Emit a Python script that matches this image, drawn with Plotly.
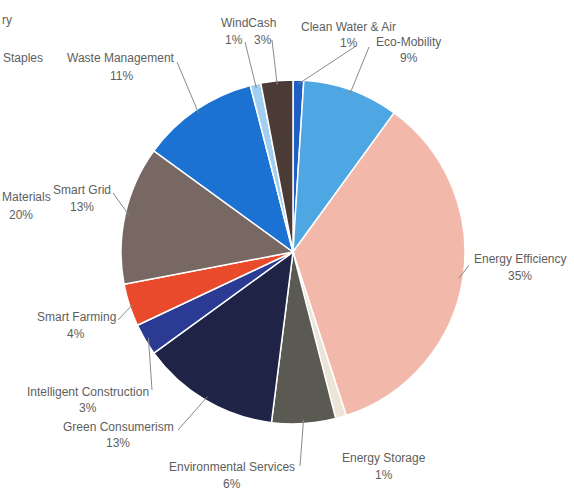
import math
import plotly.graph_objects as go

# Sector shares (%), listed clockwise from 12 o'clock
sectors = [
    "Clean Water & Air", "Eco-Mobility", "Energy Efficiency", "Energy Storage",
    "Environmental Services", "Green Consumerism", "Intelligent Construction",
    "Smart Farming", "Smart Grid", "Waste Management", "WindCash", " ",
]
shares = [1, 9, 35, 1, 6, 13, 3, 4, 13, 11, 1, 3]
colors = [
    "#1d5fc4", "#4ea6e2", "#f2b9aa", "#ece4d6", "#5b5a52", "#1f2447",
    "#2b3a92", "#ea4a2c", "#786864", "#1b72d2", "#a2cff0", "#4b3b37",
]

W, H = 574, 490
CX, CY, R = 293, 252, 172  # pie centre and radius in pixels (y from top)


def px(x, y):
    return x / W, 1 - y / H


fig = go.Figure(go.Pie(
    labels=sectors,
    values=shares,
    sort=False,
    direction="clockwise",
    rotation=0,
    marker=dict(colors=colors, line=dict(color="white", width=1.5)),
    textinfo="none",
    hoverinfo="label+percent",
    showlegend=False,
    domain=dict(x=[(CX - R) / W, (CX + R) / W],
                y=[(H - CY - R) / H, (H - CY + R) / H]),
))

# Label blocks: (slice index, name pos, pct pos, leader outer end or None)
label_specs = [
    (9, (121, 58), (121, 76), (177, 62)),
    (8, (82, 190), (82, 207), (113, 193)),
    (7, (76, 317), (76, 334), (118, 320)),
    (6, (88, 392), (88, 408), (152, 390)),
    (5, (118, 427), (118, 443), (178, 430)),
    (4, (232, 467), (232, 484), (300, 466)),
    (3, (384, 458), (384, 475), None),
    (2, (520, 259), (520, 276), (469, 265)),
    (1, (408, 42), (409, 58), (369, 47)),
    (0, (348, 27), (349, 43), (356, 46)),
]

font = dict(family="Liberation Sans, Arial, sans-serif", size=12, color="#5e5e5e")
total = sum(shares)
cum = [sum(shares[:i]) for i in range(len(shares))]


def edge_point(i, rr=R):
    ang = 2 * math.pi * (cum[i] + shares[i] / 2) / total
    return CX + rr * math.sin(ang), CY - rr * math.cos(ang)


def label(text, pos, anchor="center"):
    x, y = px(*pos)
    return dict(text=text, x=x, y=y, xref="paper", yref="paper",
                xanchor=anchor, yanchor="middle", showarrow=False, font=font)


def leader(i, outer):
    ex, ey = edge_point(i, R - 4)
    x0, y0 = px(*outer)
    x1, y1 = px(ex, ey)
    return dict(type="line", xref="paper", yref="paper",
                x0=x0, y0=y0, x1=x1, y1=y1,
                line=dict(color="#8a8a8a", width=1))


annotations = []
shapes = []
for i, npos, ppos, lead in label_specs:
    annotations.append(label(sectors[i], npos))
    annotations.append(label(f"{shares[i]}%", ppos))
    if lead is not None:
        shapes.append(leader(i, lead))

# WindCash and the small unnamed slice share the top-left label
annotations.append(label("WindCash", (248, 23)))
for i, pos, lead in [(10, (234, 40), (245, 42)), (11, (263, 40), (272, 40))]:
    annotations.append(label(f"{shares[i]}%", pos))
    shapes.append(leader(i, lead))

# Labels belonging to the neighbouring chart at the left edge
for text, pos, anchor in [("ry", (0, 20), "left"), ("Staples", (1, 58), "left"),
                          ("Materials", (0, 197), "left"), ("20%", (21, 215), "center")]:
    annotations.append(label(text, pos, anchor))

fig.update_layout(
    width=W, height=H,
    margin=dict(l=0, r=0, t=0, b=0),
    paper_bgcolor="white",
    plot_bgcolor="white",
    annotations=annotations,
    shapes=shapes,
)

fig.write_html("out.html")
